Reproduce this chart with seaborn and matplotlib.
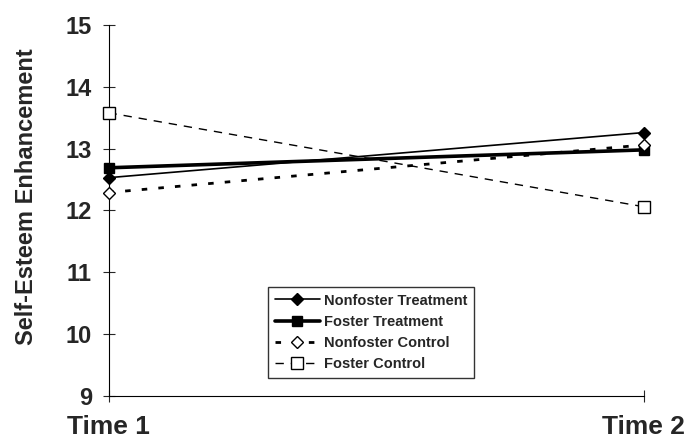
import matplotlib
matplotlib.use("Agg")
import matplotlib.pyplot as plt
import seaborn as sns
import pandas as pd

times = ["Time 1", "Time 2"]
nonfoster_treatment = [12.53, 13.26]
foster_treatment = [12.69, 12.98]
nonfoster_control = [12.29, 13.06]
foster_control = [13.58, 12.06]

series = {
    "Nonfoster Treatment": nonfoster_treatment,
    "Foster Treatment": foster_treatment,
    "Nonfoster Control": nonfoster_control,
    "Foster Control": foster_control,
}

rows = []
for name, vals in series.items():
    for i, v in enumerate(vals):
        rows.append({"x": i, "value": v, "group": name})
df = pd.DataFrame(rows)

sns.set_style("white")
plt.rcParams['font.family'] = ['Liberation Sans', 'DejaVu Sans']
plt.rcParams['font.weight'] = 'bold'

fig = plt.figure(figsize=(6.89, 4.38), dpi=100)
ax = fig.add_axes([0.1575, 0.096, 0.777, 0.847])

styles = {
    "Nonfoster Treatment": dict(lw=1.2, ls="-", marker="D", mfc="black", ms=6),
    "Foster Treatment": dict(lw=2.6, ls="-", marker="s", mfc="black", ms=7),
    "Nonfoster Control": dict(lw=2.0, ls=(0, (2.0, 4.0)), marker="D", mfc="white", ms=6),
    "Foster Control": dict(lw=1.0, ls=(0, (6, 5)), marker="s", mfc="white", ms=8),
}

for name in series:
    st = styles[name]
    sub = df[df["group"] == name]
    sns.lineplot(data=sub, x="x", y="value", ax=ax, color="black",
                 linewidth=st["lw"], linestyle=st["ls"], marker=st["marker"],
                 markerfacecolor=st["mfc"], markeredgecolor="black",
                 markeredgewidth=1.0, markersize=st["ms"], label=name,
                 clip_on=False, zorder=3)

ax.set_xlim(0, 1)
ax.set_ylim(9, 15)
ax.set_yticks([9, 10, 11, 12, 13, 14, 15])
ax.set_xticks([0, 1])
ax.set_xticklabels(times, fontsize=19, fontweight='bold')
ax.tick_params(axis='y', labelsize=17, direction='inout', length=8, width=0.8, left=True, pad=8)
ax.tick_params(axis='x', direction='inout', length=8, width=0.8, bottom=True, pad=10)
for lab in ax.get_yticklabels():
    lab.set_fontweight('bold')
ax.set_xlabel("")
ax.set_ylabel("Self-Esteem Enhancement", fontsize=17, fontweight='bold')
ax.yaxis.set_label_coords(-0.132, 0.536)

for s in ["top", "right"]:
    ax.spines[s].set_visible(False)
for s in ["left", "bottom"]:
    ax.spines[s].set_color("black")
    ax.spines[s].set_linewidth(0.8)

leg = ax.legend(loc="lower left", bbox_to_anchor=(0.298, 0.0485), borderaxespad=0,
                frameon=True, fancybox=False, edgecolor="black", fontsize=10.5,
                handlelength=3.1, borderpad=0.45, labelspacing=0.5, handletextpad=0.3)
leg.get_frame().set_linewidth(1.0)
for t in leg.get_texts():
    t.set_fontweight('bold')

fig.savefig("out.png", dpi=100)
